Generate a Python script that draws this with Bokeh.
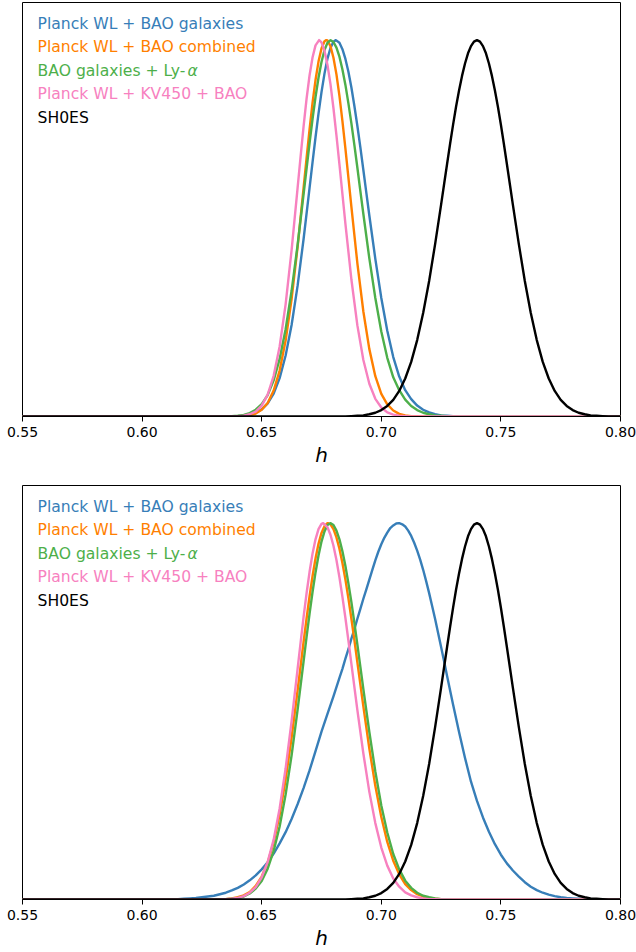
from bokeh.plotting import figure
from bokeh.models import Range1d, FixedTicker, Label, NumeralTickFormatter
from bokeh.layouts import column
from bokeh.embed import file_html
from bokeh.resources import INLINE

# ---------------- data ----------------
h_grid = [0.6000, 0.6025, 0.6050, 0.6075, 0.6100, 0.6125, 0.6150, 0.6175, 0.6200, 0.6225,
          0.6250, 0.6275, 0.6300, 0.6325, 0.6350, 0.6375, 0.6400, 0.6425, 0.6450, 0.6475,
          0.6500, 0.6525, 0.6550, 0.6575, 0.6600, 0.6625, 0.6650, 0.6675, 0.6700, 0.6725,
          0.6750, 0.6775, 0.6800, 0.6825, 0.6850, 0.6875, 0.6900, 0.6925, 0.6950, 0.6975,
          0.7000, 0.7025, 0.7050, 0.7075, 0.7100, 0.7125, 0.7150, 0.7175, 0.7200, 0.7225,
          0.7250, 0.7275, 0.7300, 0.7325, 0.7350, 0.7375, 0.7400, 0.7425, 0.7450, 0.7475,
          0.7500, 0.7525, 0.7550, 0.7575, 0.7600, 0.7625, 0.7650, 0.7675, 0.7700, 0.7725,
          0.7750, 0.7775, 0.7800, 0.7825, 0.7850, 0.7875, 0.7900, 0.7925, 0.7950, 0.7975,
          0.8000]

series_names = ["Planck WL + BAO galaxies", "Planck WL + BAO combined",
                "BAO galaxies + Ly-\u03b1", "Planck WL + KV450 + BAO", "SH0ES"]
series_colors = ["#377eb8", "#ff7f00", "#4daf4a", "#f781bf", "#000000"]

tick_values = [0.55, 0.60, 0.65, 0.70, 0.75, 0.80]

# --- top panel (values on h_grid) ---
top_blue = [0, 0, 0, 0, 0, 0, 0, 0, 0, 0,
            0, 0, 0, 0, 0, 0, .001, .002, .005, .010,
            .019, .035, .061, .102, .162, .243, .347, .471, .607, .742,
            .862, .951, .996, .993, .950, .874, .772, .655, .534, .419,
            .315, .228, .158, .106, .070, .046, .029, .018, .011, .006,
            .003, .002, .001, 0, 0, 0, 0, 0, 0, 0,
            0, 0, 0, 0, 0, 0, 0, 0, 0, 0,
            0, 0, 0, 0, 0, 0, 0, 0, 0, 0,
            0]
top_orange = [0, 0, 0, 0, 0, 0, 0, 0, 0, 0,
              0, 0, 0, 0, 0, 0, .001, .001, .003, .008,
              .018, .036, .069, .122, .202, .312, .450, .607, .762, .894,
              .978, .999, .953, .852, .712, .557, .407, .279, .179, .107,
              .060, .032, .016, .007, .003, .001, .001, 0, 0, 0,
              0, 0, 0, 0, 0, 0, 0, 0, 0, 0,
              0, 0, 0, 0, 0, 0, 0, 0, 0, 0,
              0, 0, 0, 0, 0, 0, 0, 0, 0, 0,
              0]
top_green = [0, 0, 0, 0, 0, 0, 0, 0, 0, 0,
             0, 0, 0, 0, 0, .001, .002, .004, .009, .018,
             .033, .057, .096, .153, .232, .334, .455, .590, .726, .849,
             .942, .993, .995, .956, .881, .779, .661, .538, .420, .315,
             .226, .156, .104, .070, .045, .028, .017, .010, .006, .003,
             .002, .001, 0, 0, 0, 0, 0, 0, 0, 0,
             0, 0, 0, 0, 0, 0, 0, 0, 0, 0,
             0, 0, 0, 0, 0, 0, 0, 0, 0, 0,
             0]
top_pink = [0, 0, 0, 0, 0, 0, 0, 0, 0, 0,
            0, 0, 0, 0, 0, 0, .001, .002, .006, .013,
            .029, .058, .108, .186, .298, .442, .607, .770, .906, .986,
            .994, .934, .819, .670, .512, .364, .242, .150, .087, .047,
            .024, .011, .005, .002, .001, 0, 0, 0, 0, 0,
            0, 0, 0, 0, 0, 0, 0, 0, 0, 0,
            0, 0, 0, 0, 0, 0, 0, 0, 0, 0,
            0, 0, 0, 0, 0, 0, 0, 0, 0, 0,
            0]
sh0es = [0, 0, 0, 0, 0, 0, 0, 0, 0, 0,
         0, 0, 0, 0, 0, 0, 0, 0, 0, 0,
         0, 0, 0, 0, 0, 0, 0, 0, 0, 0,
         0, 0, 0, 0, 0, .001, .002, .003, .006, .010,
         .017, .028, .044, .068, .101, .145, .203, .275, .360, .458,
         .563, .671, .775, .866, .938, .984, 1.000, .984, .938, .866,
         .775, .671, .563, .458, .360, .275, .203, .145, .101, .068,
         .044, .028, .017, .010, .006, .003, .002, .001, 0, 0,
         0]

# extra readings around each crest: (h, density)
top_blue_crest = [(0.67125, .675), (0.67375, .805), (0.67625, .911), (0.67875, .979),
                  (0.6810, 1.0), (0.68375, .976), (0.68625, .916), (0.68875, .825),
                  (0.69125, .715), (0.69375, .594)]
top_orange_crest = [(0.66875, .686), (0.67125, .833), (0.67375, .943), (0.67625, .997),
                    (0.6770, 1.0), (0.67875, .984), (0.68125, .909), (0.68375, .785),
                    (0.68625, .635)]
top_green_crest = [(0.67125, .790), (0.67375, .900), (0.67625, .974), (0.6788, 1.0),
                   (0.68125, .980), (0.68375, .922), (0.68625, .832), (0.68875, .721),
                   (0.69125, .599)]
top_pink_crest = [(0.66625, .690), (0.66875, .844), (0.67125, .954), (0.6740, 1.0),
                  (0.67625, .972), (0.67875, .883), (0.68125, .747), (0.68375, .591)]
sh0es_crest = [(0.72625, .617), (0.72875, .724), (0.73125, .823), (0.73375, .905),
               (0.73625, .965), (0.73875, .996), (0.74125, .996), (0.74375, .965),
               (0.74625, .905), (0.74875, .823), (0.75125, .724), (0.75375, .617)]

# --- bottom panel (values on h_grid) ---
bottom_blue = [0, 0, 0, 0, .001, .001, .001, .002, .003, .004,
               .006, .008, .010, .014, .018, .024, .031, .040, .051, .064,
               .080, .099, .122, .149, .179, .214, .253, .296, .343, .394,
               .446, .493, .540, .589, .640, .693, .746, .799, .850, .901,
               .944, .975, .994, 1.000, .991, .966, .927, .876, .814, .745,
               .671, .594, .518, .445, .376, .313, .262, .218, .180, .147,
               .119, .096, .077, .061, .046, .034, .025, .018, .013, .009,
               .006, .004, .003, .002, .001, .001, .001, 0, 0, 0,
               0]
bottom_orange = [0, 0, 0, 0, 0, 0, 0, 0, 0, 0,
                 0, 0, 0, .001, .001, .003, .006, .011, .020, .036,
                 .061, .098, .152, .225, .319, .430, .555, .684, .805, .906,
                 .974, 1.000, .984, .932, .850, .746, .630, .513, .401, .302,
                 .219, .153, .103, .067, .041, .025, .014, .008, .004, .002,
                 .001, .001, 0, 0, 0, 0, 0, 0, 0, 0,
                 0, 0, 0, 0, 0, 0, 0, 0, 0, 0,
                 0, 0, 0, 0, 0, 0, 0, 0, 0, 0,
                 0]
bottom_green = [0, 0, 0, 0, 0, 0, 0, 0, 0, 0,
                0, 0, 0, 0, .001, .002, .004, .008, .016, .029,
                .049, .082, .129, .194, .279, .383, .504, .632, .759, .869,
                .951, .995, .995, .957, .886, .790, .677, .559, .445, .340,
                .250, .178, .121, .080, .050, .031, .018, .010, .006, .003,
                .001, .001, 0, 0, 0, 0, 0, 0, 0, 0,
                0, 0, 0, 0, 0, 0, 0, 0, 0, 0,
                0, 0, 0, 0, 0, 0, 0, 0, 0, 0,
                0]
bottom_pink = [0, 0, 0, 0, 0, 0, 0, 0, 0, 0,
               0, 0, 0, 0, .001, .002, .004, .009, .018, .033,
               .059, .100, .159, .242, .348, .474, .612, .750, .870, .957,
               .998, .989, .940, .856, .748, .626, .503, .388, .286, .203,
               .138, .090, .056, .034, .019, .011, .006, .003, .001, .001,
               0, 0, 0, 0, 0, 0, 0, 0, 0, 0,
               0, 0, 0, 0, 0, 0, 0, 0, 0, 0,
               0, 0, 0, 0, 0, 0, 0, 0, 0, 0,
               0]

bottom_blue_crest = [(0.68375, .613), (0.68625, .665), (0.68875, .718), (0.69125, .772),
                     (0.69375, .824), (0.69625, .876), (0.69875, .924), (0.70125, .961),
                     (0.70375, .987), (0.70625, .999), (0.7073, 1.0), (0.70875, .997),
                     (0.71125, .980), (0.71375, .948), (0.71625, .903), (0.71875, .846),
                     (0.72125, .780), (0.72375, .708), (0.72625, .633)]
bottom_orange_crest = [(0.66875, .746), (0.67125, .859), (0.67375, .945), (0.67625, .992),
                       (0.6777, 1.0), (0.67875, .997), (0.68125, .962), (0.68375, .894),
                       (0.68625, .800), (0.68875, .689)]
bottom_green_crest = [(0.66875, .697), (0.67125, .817), (0.67375, .914), (0.67625, .978),
                      (0.6787, 1.0), (0.68125, .980), (0.68375, .925), (0.68625, .840),
                      (0.68875, .735), (0.69125, .618)]
bottom_pink_crest = [(0.66625, .682), (0.66875, .813), (0.67125, .919), (0.67375, .984),
                     (0.6757, 1.0), (0.67875, .969), (0.68125, .902), (0.68375, .804),
                     (0.68625, .688)]

top_series = [(top_blue, top_blue_crest), (top_orange, top_orange_crest),
              (top_green, top_green_crest), (top_pink, top_pink_crest),
              (sh0es, sh0es_crest)]
bottom_series = [(bottom_blue, bottom_blue_crest), (bottom_orange, bottom_orange_crest),
                 (bottom_green, bottom_green_crest), (bottom_pink, bottom_pink_crest),
                 (sh0es, sh0es_crest)]


# ---------------- drawing ----------------
def curve(vals, crest):
    pts = [(0.55, 0.0)] + list(zip(h_grid, vals))
    for ch, cv in crest:
        pts = [pt for pt in pts if abs(pt[0] - ch) > 1e-7]
        pts.append((ch, cv))
    pts.sort()
    return [pt[0] for pt in pts], [pt[1] for pt in pts]


def make_panel(series, height, b_top, b_bottom):
    p = figure(width=636, height=height,
               x_range=Range1d(0.55, 0.80), y_range=Range1d(0.0, 1.1),
               output_backend="svg", toolbar_location=None,
               min_border_left=22, min_border_right=16,
               min_border_top=b_top, min_border_bottom=b_bottom,
               background_fill_color="white", border_fill_color="white")
    p.xgrid.visible = False
    p.ygrid.visible = False
    p.yaxis.visible = False
    p.outline_line_color = "black"
    p.outline_line_width = 1
    p.outline_line_alpha = 1.0

    xa = p.xaxis[0]
    xa.ticker = FixedTicker(ticks=tick_values)
    xa.formatter = NumeralTickFormatter(format="0.00")
    xa.axis_line_color = "black"
    xa.major_tick_line_color = "black"
    xa.major_tick_in = 0
    xa.major_tick_out = 5
    xa.minor_tick_in = 0
    xa.minor_tick_out = 0
    xa.major_label_standoff = 5
    xa.major_label_text_font = "DejaVu Sans"
    xa.major_label_text_font_size = "14px"
    xa.major_label_text_color = "black"
    xa.axis_label = "h"
    xa.axis_label_text_font = "DejaVu Sans"
    xa.axis_label_text_font_style = "italic"
    xa.axis_label_text_font_size = "20px"
    xa.axis_label_text_color = "black"
    xa.axis_label_standoff = 3

    for (vals, crest), col in zip(series, series_colors):
        xs, ys = curve(vals, crest)
        p.line(xs, ys, line_color=col, line_width=2.4, line_join="round")

    row_px = 23.5
    unit_px = (height - b_top - b_bottom) / 1.1
    y0 = 1.1 - 21.0 / unit_px
    for k, (name, col) in enumerate(zip(series_names, series_colors)):
        yk = y0 - k * row_px / unit_px
        txt = name[:-1] if name.endswith("\u03b1") else name
        p.add_layout(Label(x=0.5563, y=yk, text=txt, text_color=col,
                           text_font="DejaVu Sans", text_font_size="15.6px",
                           text_baseline="middle", text_align="left"))
        if name.endswith("\u03b1"):
            p.add_layout(Label(x=0.5563, y=yk, x_offset=150, text="\u03b1",
                               text_color=col, text_font="DejaVu Sans",
                               text_font_style="italic", text_font_size="15.6px",
                               text_baseline="middle", text_align="left"))
    return p


p1 = make_panel(top_series, 470, 2, 54)
p2 = make_panel(bottom_series, 482, 15, 53)

layout = column(p1, p2)
open("out.html", "w").write(file_html(layout, INLINE))
